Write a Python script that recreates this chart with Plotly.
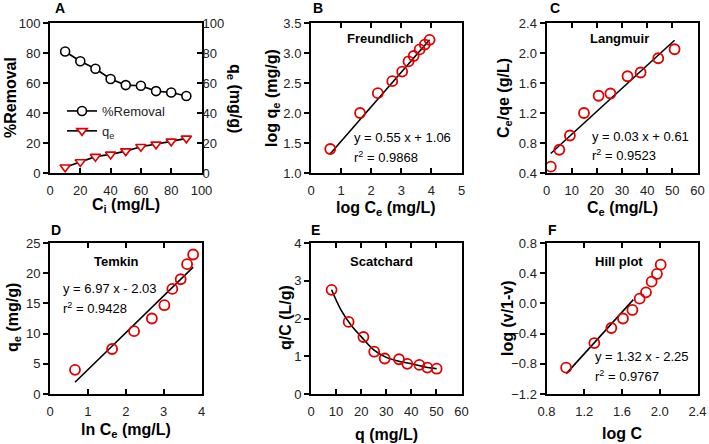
import plotly.graph_objects as go

W, H = 709, 444
FONT = "Arial, Liberation Sans, sans-serif"
RED = "#e00000"

# ---------------- data ----------------
ci = [10, 20, 30, 40, 50, 60, 70, 80, 90]
removal = [81.0, 74.5, 69.5, 62.7, 58.6, 58.2, 54.6, 53.7, 51.3]
qe_a = [3.8, 7.3, 10.9, 12.4, 14.6, 17.5, 19.1, 21.1, 23.1]

fr_x = [0.64, 1.63, 2.22, 2.70, 3.03, 3.24, 3.41, 3.61, 3.78, 3.94]
fr_y = [1.40, 2.00, 2.33, 2.53, 2.69, 2.86, 2.95, 3.06, 3.14, 3.22]
fr_fit_x = [0.64, 3.94]
fr_fit_y = [1.32, 3.22]

la_x = [1.7, 5.1, 9.3, 14.9, 20.7, 25.4, 32.2, 37.4, 44.4, 50.9]
la_y = [0.485, 0.71, 0.90, 1.20, 1.43, 1.46, 1.69, 1.74, 1.93, 2.05]
la_fit_x = [1.7, 50.9]
la_fit_y = [0.66, 2.17]

te_x = [0.66, 1.64, 2.22, 2.69, 3.02, 3.23, 3.45, 3.62, 3.78]
te_y = [4.0, 7.45, 10.4, 12.5, 14.7, 17.4, 19.0, 21.5, 23.1]
te_fit_x = [0.66, 3.78]
te_fit_y = [1.95, 21.0]

sc_x = [8.2, 15.0, 20.9, 25.2, 29.4, 35.1, 38.4, 43.2, 46.4, 50.1]
sc_y = [2.76, 1.91, 1.51, 1.12, 0.94, 0.92, 0.80, 0.77, 0.70, 0.67]
sc_fit_x = [8.2, 12, 16, 20, 25, 30, 35, 40, 45, 50.1]
sc_fit_y = [2.76, 2.22, 1.82, 1.52, 1.17, 0.97, 0.87, 0.80, 0.72, 0.67]

hi_x = [1.008, 1.307, 1.487, 1.61, 1.71, 1.787, 1.854, 1.914, 1.97, 2.01]
hi_y = [-0.851, -0.525, -0.326, -0.20, -0.087, 0.063, 0.147, 0.288, 0.39, 0.513]
hi_fit_x = [1.01, 1.72]
hi_fit_y = [-0.93, 0.05]

# ---------------- layout geometry ----------------
cols = [(50, 201.5), (311, 461.5), (546.5, 697.5)]
rows = [(23, 173), (243, 394)]

def xd(c):
    return [cols[c][0] / W, cols[c][1] / W]

def yd(r):
    return [1 - rows[r][1] / H, 1 - rows[r][0] / H]

fig = go.Figure()

def ax_common():
    return dict(showline=True, linecolor="black", linewidth=2, showgrid=False,
                zeroline=False, ticklen=5, tickwidth=1.5, tickcolor="black",
                automargin=False,
                tickfont=dict(family=FONT, size=13, color="#222"))

panels = [
    (1, 1, 2, 0, 0, [0, 100], 20, [0, 100], 20, None, None),
    (2, 3, 4, 1, 0, [0, 5], 1, [1.0, 3.5], 0.5, ".1f", None),
    (3, 5, 6, 2, 0, [0, 60], 10, [0.4, 2.4], 0.4, ".1f", None),
    (4, 7, 8, 0, 1, [0, 4], 1, [0, 25], 5, None, None),
    (5, 9, 10, 1, 1, [0, 60], 10, [0, 4], 1, None, None),
    (6, 11, 12, 2, 1, [0.8, 2.4], 0.4, [-1.2, 0.8], 0.4, ".1f", ".1f"),
]

def ref(k, i):
    return k if i == 1 else f"{k}{i}"

def nm(k, i):
    return k if i == 1 else f"{k}{i}"

for (xi, yi, yri, c, r, xr, xdt, yr, ydt, yfmt, xfmt) in panels:
    xa = ax_common()
    xa.update(domain=xd(c), range=xr, dtick=xdt, tick0=xr[0], ticks="inside",
              mirror=("ticks" if xi != 1 else True), anchor=ref("y", yi),
              ticklabelstandoff=4)
    if xfmt:
        xa["tickformat"] = xfmt
    ya = ax_common()
    ya.update(domain=yd(r), range=yr, dtick=ydt, tick0=yr[0], ticks="outside",
              mirror=True, anchor=ref("x", xi))
    if yfmt:
        ya["tickformat"] = yfmt
    yra = ax_common()
    yra.update(domain=yd(r), range=yr, dtick=ydt, tick0=yr[0], ticks="inside",
               overlaying=ref("y", yi), side="right", anchor=ref("x", xi),
               showline=False, showticklabels=(xi == 1))
    fig.update_layout(**{nm("xaxis", xi): xa, nm("yaxis", yi): ya, nm("yaxis", yri): yra})

# ---------------- traces ----------------
fig.add_trace(go.Scatter(x=ci, y=removal, mode="lines+markers", name="%Removal",
                         line=dict(color="black", width=1.6),
                         marker=dict(symbol="circle", size=9, color="white",
                                     line=dict(color="black", width=1.6)),
                         xaxis="x", yaxis="y"))
fig.add_trace(go.Scatter(x=ci, y=qe_a, mode="lines+markers", name="q<sub>e</sub>",
                         line=dict(color="black", width=1.6),
                         marker=dict(symbol="triangle-down", size=9, color="white",
                                     line=dict(color=RED, width=1.6)),
                         xaxis="x", yaxis="y2"))

def add_panel(fx, fy, px, py, xa, ya, shape="linear"):
    fig.add_trace(go.Scatter(x=fx, y=fy, mode="lines", showlegend=False,
                             line=dict(color="black", width=1.6, shape=shape),
                             xaxis=xa, yaxis=ya))
    fig.add_trace(go.Scatter(x=px, y=py, mode="markers", showlegend=False,
                             marker=dict(symbol="circle", size=10, color="rgba(0,0,0,0)",
                                         line=dict(color=RED, width=1.8)),
                             xaxis=xa, yaxis=ya))

add_panel(fr_fit_x, fr_fit_y, fr_x, fr_y, "x2", "y3")
add_panel(la_fit_x, la_fit_y, la_x, la_y, "x3", "y5")
add_panel(te_fit_x, te_fit_y, te_x, te_y, "x4", "y7")
add_panel(sc_fit_x, sc_fit_y, sc_x, sc_y, "x5", "y9", shape="spline")
add_panel(hi_fit_x, hi_fit_y, hi_x, hi_y, "x6", "y11")

# ---------------- annotations ----------------
ann = []

def txt(s, x, y, size=13, bold=False, angle=0, xanchor="center", color="black"):
    ann.append(dict(text=(f"<b>{s}</b>" if bold else s), x=x / W, y=1 - y / H,
                    xref="paper", yref="paper", showarrow=False, textangle=angle,
                    xanchor=xanchor, yanchor="middle",
                    font=dict(family=FONT, size=size, color=color)))

for s, x, y in [("A", 60, 8), ("B", 318, 8), ("C", 555, 8),
                ("D", 56, 230), ("E", 315, 230), ("F", 552, 230)]:
    txt(s, x, y, size=14, bold=True)

T = 16
txt("%Removal", 11, 98, T, True, -90)
txt("q<sub>e</sub> (mg/g)", 234, 98, T, True, 90)
txt("C<sub>i</sub> (mg/L)", 126, 206, T, True)
txt("log q<sub>e</sub> (mg/g)", 273, 98, T, True, -90)
txt("log C<sub>e</sub> (mg/L)", 386, 208, T, True)
txt("C<sub>e</sub>/qe (g/L)", 505, 98, T, True, -90)
txt("C<sub>e</sub> (mg/L)", 622, 209, T, True)
txt("q<sub>e</sub> (mg/g)", 13, 318, T, True, -90)
txt("ln C<sub>e</sub> (mg/L)", 126, 430, T, True)
txt("q/C (L/g)", 285, 318, T, True, -90)
txt("q (mg/L)", 386, 434, T, True)
txt("log (v/1-v)", 507, 318, T, True, -90)
txt("log C", 622, 433, T, True)

txt("Freundlich", 380, 39, 13, True)
txt("y = 0.55 x + 1.06", 352, 138, 13, xanchor="left")
txt("r<sup>2</sup> = 0.9868", 352, 157, 13, xanchor="left")
txt("Langmuir", 619, 39, 13, True)
txt("y = 0.03 x + 0.61", 590, 136, 13, xanchor="left")
txt("r<sup>2</sup> = 0.9523", 590, 155, 13, xanchor="left")
txt("Temkin", 116, 261, 13, True)
txt("y = 6.97 x - 2.03", 61, 288, 13, xanchor="left")
txt("r<sup>2</sup> = 0.9428", 61, 308, 13, xanchor="left")
txt("Scatchard", 381, 261, 13, True)
txt("Hill plot", 619, 261, 13, True)
txt("y = 1.32 x - 2.25", 593, 356, 13, xanchor="left")
txt("r<sup>2</sup> = 0.9767", 593, 376, 13, xanchor="left")

fig.update_layout(
    width=W, height=H, margin=dict(l=0, r=0, t=0, b=0, pad=0, autoexpand=False),
    paper_bgcolor="white", plot_bgcolor="white",
    font=dict(family=FONT, size=12, color="black"),
    annotations=ann,
    showlegend=True,
    legend=dict(x=62 / W, y=1 - 96 / H, xanchor="left", yanchor="top",
                bgcolor="rgba(0,0,0,0)", font=dict(family=FONT, size=13, color="#222"),
                tracegroupgap=0, itemwidth=30),
)

fig.write_html("out.html", config={"displayModeBar": False},
               post_script="document.body.style.margin='0px';document.body.style.overflow='hidden';")
